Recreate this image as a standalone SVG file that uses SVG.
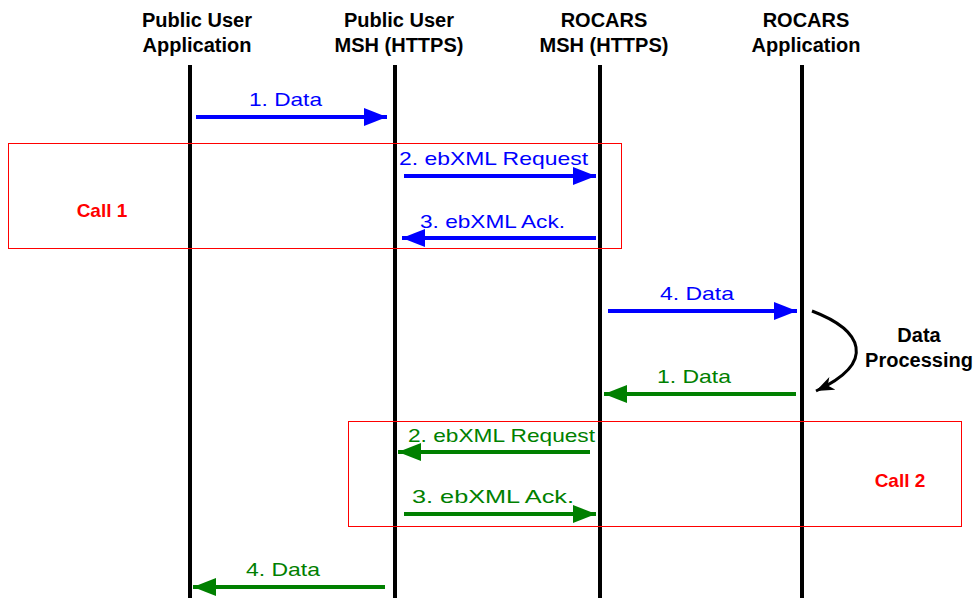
<svg xmlns="http://www.w3.org/2000/svg" width="977" height="598" viewBox="0 0 977 598">
<defs>
<style>
.hdr{font-family:"Liberation Sans",Arial,sans-serif;font-weight:bold;font-size:20px;fill:#000;text-anchor:middle}
.life{stroke:#000;stroke-width:4}
.blue{stroke:#0000ff;stroke-width:4;fill:none}
.green{stroke:#008000;stroke-width:4;fill:none}
.lb{font-family:"Liberation Sans",Arial,sans-serif;font-size:19px;fill:#0000ff}
.lg{font-family:"Liberation Sans",Arial,sans-serif;font-size:19px;fill:#008000}
.call{fill:none;stroke:#ff0000;stroke-width:1}
.ct{font-family:"Liberation Sans",Arial,sans-serif;font-weight:bold;font-size:19px;fill:#ff0000;text-anchor:middle}
</style>
<marker id="ab" markerUnits="userSpaceOnUse" markerWidth="24" markerHeight="19" refX="23" refY="9" orient="auto"><path d="M0,0 L23,9 L0,18 z" fill="#0000ff"/></marker>
<marker id="ag" markerUnits="userSpaceOnUse" markerWidth="24" markerHeight="19" refX="23" refY="9" orient="auto"><path d="M0,0 L23,9 L0,18 z" fill="#008000"/></marker>
<marker id="ak" markerUnits="userSpaceOnUse" markerWidth="19" markerHeight="15" refX="18" refY="7" orient="auto"><path d="M0,0 L18,7 L0,14 L5,7 z" fill="#000"/></marker>
</defs>
<rect width="977" height="598" fill="#fff"/>
<g id="pua"><text class="hdr" x="197" y="27">Public User</text><text class="hdr" x="197" y="52">Application</text><line class="life" x1="190" y1="65" x2="190" y2="598"/></g>
<g id="pumsh"><text class="hdr" x="399" y="27">Public User</text><text class="hdr" x="399" y="52">MSH (HTTPS)</text><line class="life" x1="395" y1="65" x2="395" y2="598"/></g>
<g id="rmsh"><text class="hdr" x="604" y="27">ROCARS</text><text class="hdr" x="604" y="52">MSH (HTTPS)</text><line class="life" x1="600" y1="65" x2="600" y2="598"/></g>
<g id="rapp"><text class="hdr" x="806" y="27">ROCARS</text><text class="hdr" x="806" y="52">Application</text><line class="life" x1="802" y1="65" x2="802" y2="598"/></g>
<g id="call1"><rect class="call" x="8.5" y="143.5" width="613" height="105"/><text class="ct" x="102" y="217">Call 1</text></g>
<g id="call2"><rect class="call" x="348.5" y="421.5" width="613" height="105"/><text class="ct" x="900" y="487">Call 2</text></g>
<g id="connectors">
<line class="blue" x1="196" y1="117" x2="387" y2="117" marker-end="url(#ab)"/>
<line class="blue" x1="404" y1="176" x2="596" y2="176" marker-end="url(#ab)"/>
<line class="blue" x1="596" y1="238" x2="402" y2="238" marker-end="url(#ab)"/>
<line class="blue" x1="608" y1="311" x2="797" y2="311" marker-end="url(#ab)"/>
<path d="M812,311 C 862,330 878,362 816,391" stroke="#000" stroke-width="3" fill="none" marker-end="url(#ak)"/>
<line class="green" x1="796" y1="394" x2="604" y2="394" marker-end="url(#ag)"/>
<line class="green" x1="590" y1="452" x2="398" y2="452" marker-end="url(#ag)"/>
<line class="green" x1="404" y1="514" x2="596" y2="514" marker-end="url(#ag)"/>
<line class="green" x1="385" y1="587" x2="193" y2="587" marker-end="url(#ag)"/>
</g>
<g id="labels">
<text class="lb" x="249" y="106" textLength="73" lengthAdjust="spacingAndGlyphs">1. Data</text>
<text class="lb" x="399" y="165" textLength="189" lengthAdjust="spacingAndGlyphs">2. ebXML Request</text>
<text class="lb" x="420" y="228" textLength="145" lengthAdjust="spacingAndGlyphs">3. ebXML Ack.</text>
<text class="lb" x="660" y="300" textLength="74" lengthAdjust="spacingAndGlyphs">4. Data</text>
<text class="lg" x="657" y="383" textLength="74" lengthAdjust="spacingAndGlyphs">1. Data</text>
<text class="lg" x="408" y="442" textLength="187" lengthAdjust="spacingAndGlyphs">2. ebXML Request</text>
<text class="lg" x="412" y="503" textLength="162" lengthAdjust="spacingAndGlyphs">3. ebXML Ack.</text>
<text class="lg" x="246" y="576" textLength="74" lengthAdjust="spacingAndGlyphs">4. Data</text>
<text class="hdr" x="919" y="342">Data</text>
<text class="hdr" x="919" y="367">Processing</text>
</g>
</svg>
